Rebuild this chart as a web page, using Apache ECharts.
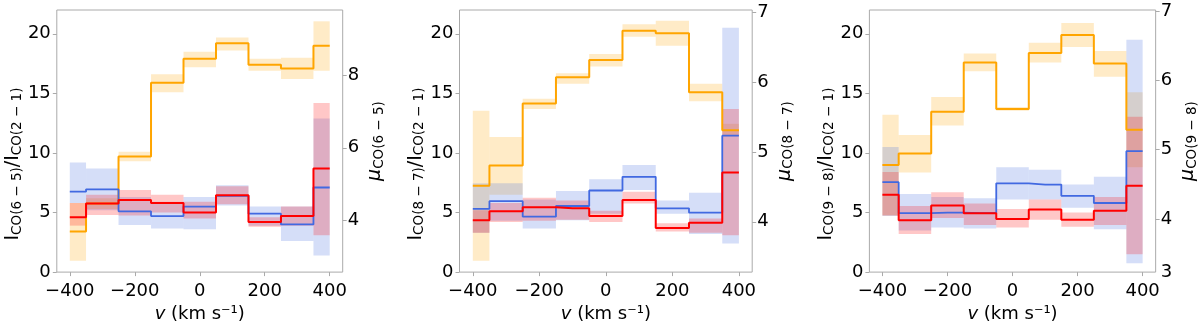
<!DOCTYPE html>
<html><head><meta charset="utf-8">
<script src="https://cdn.jsdelivr.net/npm/echarts@6/dist/echarts.min.js"></script>
<style>html,body{margin:0;padding:0;background:#fff}#c{width:1200px;height:328px}</style>
</head><body><div id="c"></div>
<script>
// velocity bin centres (km/s)
const xs = [-400,-300,-200,-100,0,100,200,300,400];
const binHalfWidth = 50;
const xTicks = [-400,-200,0,200,400];
const leftTicks = [0,5,10,15,20];

// Panel 1: CO(6-5)
const orange1   = [3.4, 5.75, 9.7, 15.9, 17.9, 19.2, 17.4, 17.1, 19.0];
const orange1Lo = [0.95, 5.3, 9.3, 15.1, 17.2, 18.6, 16.9, 16.2, 16.9];
const orange1Hi = [5.8, 6.2, 10.1, 16.6, 18.5, 19.7, 17.9, 18.0, 21.05];
const blue1     = [6.75, 6.95, 5.1, 4.7, 5.5, 6.4, 4.9, 4.0, 7.1];
const blue1Lo   = [5.8, 5.2, 3.95, 3.65, 3.6, 5.6, 3.9, 2.6, 1.4];
const blue1Hi   = [9.2, 8.7, 6.3, 5.9, 6.3, 7.3, 5.5, 5.5, 12.9];
const red1      = [4.6, 5.75, 6.05, 5.8, 5.0, 6.45, 4.2, 4.7, 8.7];
const red1Lo    = [3.9, 4.8, 4.75, 5.0, 4.5, 5.7, 3.8, 3.9, 3.1];
const red1Hi    = [5.8, 6.5, 6.9, 6.5, 5.9, 7.2, 4.6, 5.5, 14.2];
const right1Ticks = [4,6,8];

// Panel 2: CO(8-7)
const orange2   = [7.25, 8.95, 14.15, 16.35, 17.8, 20.25, 20.05, 15.1, 11.9];
const orange2Lo = [0.95, 6.5, 13.7, 15.8, 17.25, 19.75, 19.0, 14.35, 11.4];
const orange2Hi = [13.55, 11.35, 14.55, 16.7, 18.3, 20.8, 21.1, 15.8, 12.45];
const blue2     = [5.3, 5.95, 4.65, 5.55, 6.85, 8.0, 5.35, 5.0, 11.45];
const blue2Lo   = [3.3, 4.3, 3.65, 4.35, 4.9, 6.9, 4.9, 3.2, 2.4];
const blue2Hi   = [7.45, 7.45, 6.1, 6.8, 7.8, 9.0, 6.0, 6.65, 20.5];
const red2      = [4.35, 5.1, 5.45, 5.35, 4.7, 6.05, 3.7, 4.15, 8.35];
const red2Lo    = [3.3, 4.2, 4.3, 4.4, 4.2, 5.75, 3.4, 3.3, 3.1];
const red2Hi    = [5.2, 5.8, 6.25, 6.0, 5.15, 6.75, 4.1, 4.5, 13.7];
const right2Ticks = [4,5,6,7];

// Panel 3: CO(9-8)
const orange3   = [9.0, 9.95, 13.45, 17.6, 13.7, 18.4, 19.9, 17.5, 11.95];
const orange3Lo = [4.75, 8.35, 12.3, 16.85, 13.55, 17.6, 18.9, 16.4, 8.8];
const orange3Hi = [13.2, 11.5, 14.7, 18.35, 13.85, 19.25, 20.9, 18.55, 15.1];
const blue3     = [7.55, 4.95, 5.0, 4.95, 7.45, 7.35, 6.4, 5.8, 10.15];
const blue3Lo   = [4.7, 3.5, 3.75, 3.65, 6.1, 6.1, 5.4, 3.6, 0.75];
const blue3Hi   = [10.5, 6.55, 6.3, 6.2, 8.8, 8.6, 7.35, 8.0, 19.5];
const red3      = [6.5, 4.35, 5.6, 4.95, 4.45, 5.25, 4.4, 5.15, 7.25];
const red3Lo    = [4.75, 3.2, 4.55, 3.95, 3.75, 4.4, 3.8, 3.95, 1.5];
const red3Hi    = [8.4, 5.55, 6.7, 5.75, 5.3, 6.1, 5.0, 6.3, 13.05];
const right3Ticks = [3.23,4,5,6,7];

const transitions = ['6 − 5','8 − 7','9 − 8'];

const FONT = 'DejaVu Sans';
const C_OR = '#FFA500', C_BL = '#4169E1', C_RD = '#FF0000';
const FRAME = '#aaaaaa';

const panels = [
  {or:[orange1,orange1Lo,orange1Hi], bl:[blue1,blue1Lo,blue1Hi], rd:[red1,red1Lo,red1Hi], rt:right1Ticks, rmin:2.58, rmax:9.79, left:50, w:292.7},
  {or:[orange2,orange2Lo,orange2Hi], bl:[blue2,blue2Lo,blue2Hi], rd:[red2,red2Lo,red2Hi], rt:right2Ticks, rmin:3.28, rmax:7.03, left:459.5, w:292.7},
  {or:[orange3,orange3Lo,orange3Hi], bl:[blue3,blue3Lo,blue3Hi], rd:[red3,red3Lo,red3Hi], rt:right3Ticks, rmin:3.23, rmax:7.02, left:869.4, w:292.7}
];
const xMin = xs[0], xMax = xs[xs.length-1];

const grids=[], xAxes=[], yAxes=[], series=[];
const richName = {
  m:{fontFamily:FONT,fontSize:19,color:'#000',lineHeight:20,verticalAlign:'top'},
  i:{fontFamily:FONT,fontSize:19,color:'#000',fontStyle:'italic',lineHeight:20,verticalAlign:'top'},
  s:{fontFamily:FONT,fontSize:13.5,color:'#000',lineHeight:14,padding:[9,0,0,0],verticalAlign:'bottom'}
};
panels.forEach((p,k)=>{
  grids.push({left:p.left, top:10, width:p.w, height:271, show:true, borderColor:FRAME, borderWidth:1, backgroundColor:'transparent'});
  xAxes.push({type:'value', gridIndex:k, min:-440, max:440,
    axisLine:{show:false, onZero:false}, splitLine:{show:false},
    axisTick:{show:true, length:4, lineStyle:{color:FRAME}, customValues:xTicks},
    axisLabel:{color:'#000', fontFamily:FONT, fontSize:18, margin:10, customValues:xTicks,
      formatter:v=>String(v).replace('-','−')},
    name:'{i|v} (km s⁻¹)', nameLocation:'middle', nameGap:27,
    nameTextStyle:{fontFamily:FONT, fontSize:18, color:'#000', rich:{i:{fontFamily:FONT,fontSize:18,fontStyle:'italic',color:'#000'}}}
  });
  const t = transitions[k];
  yAxes.push({type:'value', gridIndex:k, min:0, max:22, position:'left',
    axisLine:{show:false, onZero:false}, splitLine:{show:false},
    axisTick:{show:true, length:4, lineStyle:{color:FRAME}, customValues:leftTicks},
    axisLabel:{color:'#000', fontFamily:FONT, fontSize:18, margin:6, customValues:leftTicks},
    name:'{m|I}{s|CO('+t+')}{m|/I}{s|CO(2 − 1)}', nameLocation:'middle', nameRotate:90, nameGap:30,
    nameTextStyle:{rich:richName, padding:[0,46,0,0]}
  });
  yAxes.push({type:'value', gridIndex:k, min:p.rmin, max:p.rmax, position:'right',
    axisLine:{show:false, onZero:false}, splitLine:{show:false},
    axisTick:{show:true, length:4, lineStyle:{color:FRAME}, customValues:p.rt.filter(v=>Number.isInteger(v))},
    axisLabel:{color:'#000', fontFamily:FONT, fontSize:18, margin:5, customValues:p.rt, formatter:v=>String(Math.round(v))},
    name:'{i|μ}{s|CO('+t+')}', nameLocation:'middle', nameRotate:90, nameGap:6,
    nameTextStyle:{rich:richName}
  });
  const yi = k*2;
  const addBand=(arr,color)=>{
    const lo=arr[1], hi=arr[2];
    series.push({type:'custom', xAxisIndex:k, yAxisIndex:yi, silent:true, z:1,
      data:xs.map((x,i)=>[x,lo[i],hi[i]]),
      encode:{x:0, y:[1,2]},
      renderItem:(params,api)=>{
        const x=api.value(0);
        const x0=Math.max(xMin,x-binHalfWidth), x1=Math.min(xMax,x+binHalfWidth);
        const a=api.coord([x0,api.value(2)]), b=api.coord([x1,api.value(1)]);
        return {type:'rect', shape:{x:a[0], y:a[1], width:b[0]-a[0], height:b[1]-a[1]},
          style:{fill:color, opacity:0.22}};
      }});
  };
  const addLine=(arr,color,w)=>{
    series.push({type:'line', xAxisIndex:k, yAxisIndex:yi, step:'middle', showSymbol:false, silent:true,
      data:xs.map((x,i)=>[x,arr[0][i]]), lineStyle:{color:color,width:w}, z:3});
  };
  addBand(p.or,C_OR); addBand(p.bl,C_BL); addBand(p.rd,C_RD);
  addLine(p.or,C_OR,2); addLine(p.bl,C_BL,1.8); addLine(p.rd,C_RD,2);
});

const chart = echarts.init(document.getElementById('c'), null, {renderer:'canvas'});
chart.setOption({animation:false, grid:grids, xAxis:xAxes, yAxis:yAxes, series:series});
</script></body></html>
